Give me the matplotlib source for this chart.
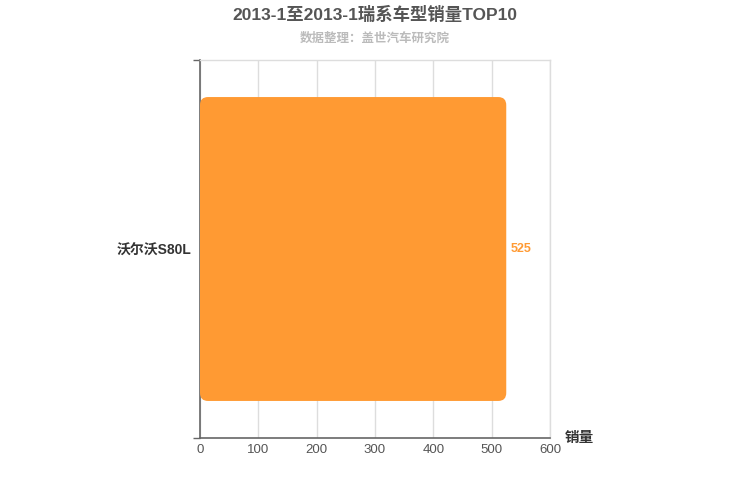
import matplotlib
matplotlib.use("Agg")
import matplotlib.pyplot as plt
from matplotlib.patches import FancyBboxPatch

plt.rcParams['font.family'] = ['Liberation Sans', 'Noto Sans CJK SC', 'DejaVu Sans']

categories = ["沃尔沃S80L"]
values = [525]
xticks = [0, 100, 200, 300, 400, 500, 600]
title = "2013-1至2013-1瑞系车型销量TOP10"
subtitle = "数据整理：盖世汽车研究院"
axis_name = "销量"

bar_color = "#FF9A33"

fig = plt.figure(figsize=(7.5, 5), dpi=100)
ax = fig.add_axes([200/750, 62/500, 350/750, 378/500])

ax.set_xlim(0, 600)
ax.set_ylim(-0.5, len(categories) - 0.5)

# rounded bars
xpp = 600 / 350
ypp = 1 / 378
r_px = 8
for i, v in enumerate(values):
    h = 0.804
    p = FancyBboxPatch((0, i - h/2), v, h,
                       boxstyle=f"round,pad=0,rounding_size={r_px*xpp}",
                       mutation_aspect=(r_px*ypp)/(r_px*xpp),
                       facecolor=bar_color, edgecolor='none', zorder=3)
    ax.add_patch(p)
    ax.text(v + 4*xpp, i, str(v), va='center', ha='left', color=bar_color,
            fontsize=9, fontweight='bold')

ax.set_xticks(xticks)
ax.set_xticklabels([str(t) for t in xticks], color='#555555', fontsize=9.5)
ax.tick_params(axis='x', length=0, pad=4)
ax.grid(axis='x', color='#dddddd', linewidth=1, zorder=0)

ax.set_yticks(range(len(categories)))
ax.set_yticklabels(categories, fontsize=10, color='#333333', fontweight='bold')
ax.tick_params(axis='y', length=0, pad=6)
ax.set_yticks([-0.5, len(categories) - 0.5], minor=True)
ax.tick_params(axis='y', which='minor', length=5, color='#666666', width=1)

for s in ['left', 'bottom']:
    ax.spines[s].set_color('#666666')
    ax.spines[s].set_linewidth(1.2)
for s in ['top', 'right']:
    ax.spines[s].set_color('#dddddd')
    ax.spines[s].set_linewidth(1)

fig.text(375/750, 1 - 14/500, title, ha='center', va='center', fontsize=12.5,
         fontweight='bold', color='#555555')
fig.text(375/750, 1 - 39/500, subtitle, ha='center', va='center', fontsize=9,
         fontweight='bold', color='#bbbbbb')
fig.text(565/750, 1 - 438/500, axis_name, ha='left', va='center', fontsize=10.5,
         fontweight='bold', color='#333333')

fig.savefig("out.png", dpi=100, facecolor='white')
